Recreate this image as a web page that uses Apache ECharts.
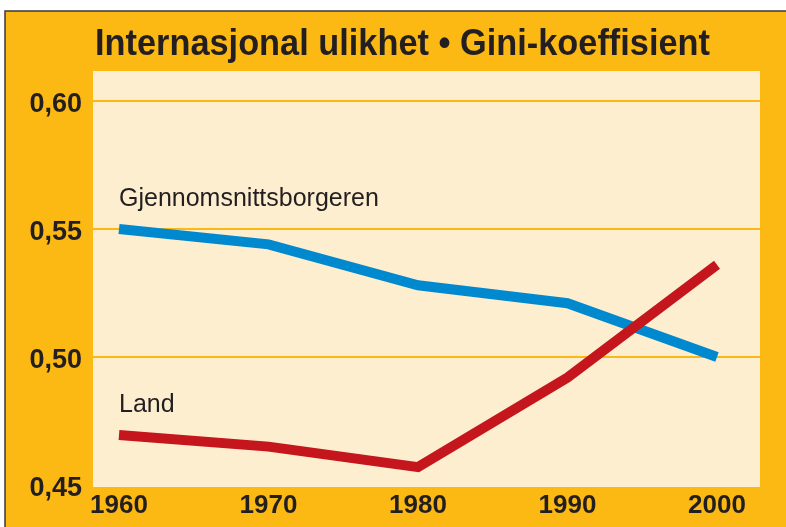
<!DOCTYPE html>
<html>
<head>
<meta charset="utf-8">
<script src="https://cdn.jsdelivr.net/npm/echarts@6/dist/echarts.min.js"></script>
<style>html,body{margin:0;padding:0;background:#fff}#c{width:786px;height:527px}</style>
</head>
<body>
<div id="c"></div>
<script>
const years = ['1960', '1970', '1980', '1990', '2000'];
const avgCitizen = [0.550, 0.544, 0.528, 0.521, 0.500];
const countries = [0.4695, 0.465, 0.457, 0.492, 0.536];
const yMin = 0.45, yMax = 0.60, yStep = 0.05;
const titleText = 'Internasjonal ulikhet \u2022 Gini-koeffisient';
const seriesNames = ['Gjennomsnittsborgeren', 'Land'];

const ORANGE = '#FCB813', CREAM = '#FDEECF', INK = '#231F20';
const TITLE_FONT = 'bold 37px "Liberation Sans"';

// fit title width to the reference (condensed face)
const mctx = document.createElement('canvas').getContext('2d');
mctx.font = TITLE_FONT;
const titleScale = 615 / mctx.measureText(titleText).width;

function withStartLabel(arr) {
  return arr.map((v, i) => i === 0 ? {
    value: v,
    label: {
      show: true, position: 'top', align: 'left', distance: 17,
      formatter: '{a}', color: INK, fontSize: 25,
      fontFamily: 'Liberation Sans', fontWeight: 'normal'
    }
  } : v);
}

const chart = echarts.init(document.getElementById('c'), null, {renderer: 'canvas'});
chart.setOption({
  backgroundColor: '#ffffff',
  animation: false,
  graphic: [
    {type: 'rect', z: -20, shape: {x: 5, y: 11, width: 790, height: 530},
     style: {fill: ORANGE, stroke: '#3a3a3a', lineWidth: 1.5}},
    {type: 'rect', z: -10, shape: {x: 93, y: 71, width: 667, height: 416},
     style: {fill: CREAM}},
    {type: 'text', x: 95, y: 45, scaleX: titleScale, z: 10,
     style: {text: titleText, font: TITLE_FONT, fill: INK, verticalAlign: 'middle', align: 'left'}}
  ],
  grid: [
    {left: 119, right: 69, top: 101, bottom: 42},
    {left: 93, right: 26, top: 101, bottom: 42}
  ],
  xAxis: [
    {type: 'category', data: years, boundaryGap: false, gridIndex: 0,
     axisLine: {show: false}, axisTick: {show: false}, splitLine: {show: false},
     axisLabel: {margin: 8, color: INK, fontSize: 26, fontWeight: 'bold', fontFamily: 'Liberation Sans'}},
    {type: 'category', data: years, gridIndex: 1, show: false}
  ],
  yAxis: [
    {type: 'value', min: yMin, max: yMax, interval: yStep, gridIndex: 0,
     axisLine: {show: false}, axisTick: {show: false}, splitLine: {show: false}, axisLabel: {show: false}},
    {type: 'value', min: yMin, max: yMax, interval: yStep, gridIndex: 1,
     axisLine: {show: false}, axisTick: {show: false},
     splitLine: {show: true, showMinLine: false, lineStyle: {color: ORANGE, width: 2}},
     axisLabel: {margin: 11, color: INK, fontSize: 27, fontWeight: 'bold', fontFamily: 'Liberation Sans',
       formatter: v => '{v|' + v.toFixed(2).replace('.', ',') + '}',
       rich: {v: {color: INK, fontSize: 27, fontWeight: 'bold', fontFamily: 'Liberation Sans', padding: [7, 0, 0, 0]}}}}
  ],
  series: [
    {name: seriesNames[0], type: 'line', data: withStartLabel(avgCitizen), xAxisIndex: 0, yAxisIndex: 0,
     symbol: 'circle', symbolSize: 1, showSymbol: true, itemStyle: {color: 'rgba(0,0,0,0)'},
     lineStyle: {color: '#0089CF', width: 10, cap: 'butt', join: 'miter'}, z: 3},
    {name: seriesNames[1], type: 'line', data: withStartLabel(countries), xAxisIndex: 0, yAxisIndex: 0,
     symbol: 'circle', symbolSize: 1, showSymbol: true, itemStyle: {color: 'rgba(0,0,0,0)'},
     lineStyle: {color: '#C5161D', width: 10, cap: 'butt', join: 'miter'}, z: 4}
  ]
});
</script>
</body>
</html>
